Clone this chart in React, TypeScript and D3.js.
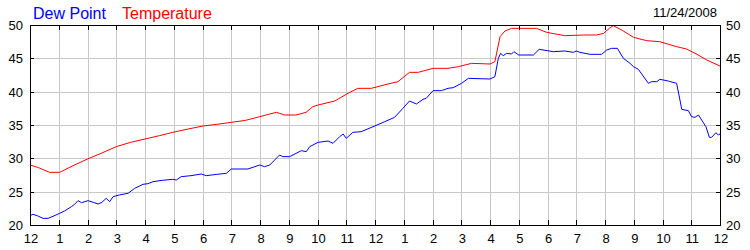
import React from "react";
import * as d3 from "d3";

const hourLabels = ["12","1","2","3","4","5","6","7","8","9","10","11","12","1","2","3","4","5","6","7","8","9","10","11","12"];
const yTicks = [20, 25, 30, 35, 40, 45, 50];
const dateLabel = "11/24/2008";

const tempHours = [0, 0.3, 0.68, 1.03, 1.5, 2.0, 2.5, 3.0, 3.5, 4.0, 4.5, 4.97, 5.5, 6.02, 6.5, 7.0, 7.5, 7.99, 8.3, 8.57, 8.86, 9.25, 9.6, 9.84, 10.02, 10.6, 11.06, 11.4, 11.87, 12.45, 12.8, 13.2, 13.5, 14.02, 14.54, 14.9, 15.36, 16.0, 16.17, 16.35, 16.52, 16.75, 17.62, 17.97, 18.6, 19.25, 19.7, 19.95, 20.15, 20.29, 20.6, 20.99, 21.45, 21.9, 22.49, 22.84, 23.2, 23.54, 24];
const tempValues = [29.0, 28.6, 27.9, 27.9, 28.9, 29.9, 30.8, 31.75, 32.4, 32.9, 33.4, 33.9, 34.4, 34.85, 35.1, 35.4, 35.7, 36.25, 36.6, 36.9, 36.5, 36.5, 36.9, 37.75, 38.0, 38.6, 39.75, 40.5, 40.5, 41.15, 41.5, 42.9, 42.9, 43.5, 43.5, 43.75, 44.25, 44.15, 44.5, 48.25, 49.1, 49.5, 49.5, 48.9, 48.4, 48.5, 48.5, 48.75, 49.5, 49.9, 49.2, 48.15, 47.65, 47.5, 46.75, 46.4, 45.6, 44.75, 43.85];

const dewHours = [0, 0.1, 0.25, 0.45, 0.63, 0.8, 1.03, 1.2, 1.44, 1.55, 1.67, 1.79, 2.02, 2.2, 2.37, 2.5, 2.65, 2.77, 2.89, 3.1, 3.41, 3.64, 3.93, 4.1, 4.28, 4.6, 4.97, 5.09, 5.26, 5.6, 5.96, 6.13, 6.5, 6.83, 7.0, 7.58, 7.99, 8.16, 8.34, 8.68, 8.8, 9.03, 9.44, 9.61, 9.73, 10.02, 10.37, 10.54, 10.77, 10.89, 11.0, 11.23, 11.52, 11.99, 12.34, 12.68, 12.97, 13.2, 13.44, 13.67, 13.78, 14.02, 14.31, 14.54, 14.72, 15.01, 15.25, 16.0, 16.17, 16.29, 16.37, 16.46, 16.58, 16.75, 16.83, 17.0, 17.51, 17.71, 18.2, 18.6, 18.9, 19.0, 19.13, 19.48, 19.88, 20.06, 20.23, 20.43, 20.64, 20.87, 20.99, 21.16, 21.51, 21.62, 21.8, 21.91, 22.2, 22.49, 22.58, 22.67, 22.9, 23.01, 23.13, 23.25, 23.51, 23.63, 23.71, 23.86, 23.94, 24];
const dewValues = [21.4, 21.6, 21.4, 21.0, 21.0, 21.3, 21.75, 22.1, 22.75, 23.1, 23.65, 23.35, 23.65, 23.4, 23.15, 23.4, 24.0, 23.5, 24.25, 24.5, 24.75, 25.5, 26.1, 26.2, 26.5, 26.7, 26.85, 26.75, 27.25, 27.4, 27.65, 27.4, 27.6, 27.75, 28.4, 28.4, 29.0, 28.75, 29.0, 30.5, 30.25, 30.25, 31.15, 31.0, 31.75, 32.4, 32.6, 32.25, 33.25, 33.65, 33.0, 33.9, 34.0, 34.85, 35.5, 36.15, 37.5, 38.6, 38.15, 38.85, 39.0, 40.15, 40.15, 40.5, 40.6, 41.25, 42.0, 41.9, 42.25, 45.0, 45.75, 45.4, 45.75, 45.65, 46.0, 45.5, 45.5, 46.35, 46.0, 46.1, 45.9, 46.1, 45.9, 45.6, 45.6, 46.25, 46.5, 46.5, 45.0, 44.25, 43.75, 43.35, 41.25, 41.5, 41.5, 41.85, 41.6, 41.25, 39.35, 37.35, 37.15, 36.25, 36.15, 36.5, 34.75, 33.15, 33.15, 33.85, 33.5, 33.65];

const W = 750, H = 250;
const L = 30, R = 720, T = 25, B = 225;
const FONT = "'Liberation Sans', Arial, sans-serif";

export default function App() {
  const x = d3.scaleLinear().domain([0, 24]).range([L, R]);
  const y = d3.scaleLinear().domain([20, 50]).range([B, T]);
  const line = d3.line<[number, number]>().x(d => x(d[0])).y(d => y(d[1]));
  const tempPath = line(tempHours.map((h, i) => [h, tempValues[i]]) as [number, number][]) || "";
  const dewPath = line(dewHours.map((h, i) => [h, dewValues[i]]) as [number, number][]) || "";
  const hours = d3.range(0, 25);
  return (
    <svg width={W} height={H} style={{ position: "absolute", left: 0, top: 0, background: "#fff" }} fontFamily={FONT}>
      <rect x={0} y={0} width={W} height={H} fill="#fff" />
      {hours.slice(1, 24).map(h => (
        <line key={"vg" + h} x1={Math.round(x(h)) + 0.5} x2={Math.round(x(h)) + 0.5} y1={T} y2={B} stroke="#c8c8c8" strokeWidth={1} />
      ))}
      {yTicks.slice(1, -1).map(v => (
        <line key={"hg" + v} x1={L} x2={R} y1={Math.round(y(v)) + 0.5} y2={Math.round(y(v)) + 0.5} stroke="#c8c8c8" strokeWidth={1} />
      ))}
      <path d={tempPath} fill="none" stroke="#ff0000" strokeWidth={1} />
      <path d={dewPath} fill="none" stroke="#0000ff" strokeWidth={1} />
      <rect x={L + 0.5} y={T + 0.5} width={R - L} height={B - T} fill="none" stroke="#000" strokeWidth={1} />
      {hours.map(h => (
        <g key={"xt" + h}>
          <line x1={Math.round(x(h)) + 0.5} x2={Math.round(x(h)) + 0.5} y1={T} y2={T + 5} stroke="#000" />
          <line x1={Math.round(x(h)) + 0.5} x2={Math.round(x(h)) + 0.5} y1={B - 5} y2={B} stroke="#000" />
          <text x={x(h) + 1} y={243} fontSize={13} textAnchor="middle" fill="#000">{hourLabels[h]}</text>
        </g>
      ))}
      {yTicks.map(v => (
        <g key={"yt" + v}>
          <line x1={L} x2={L + 4} y1={Math.round(y(v)) + 0.5} y2={Math.round(y(v)) + 0.5} stroke="#000" />
          <line x1={R - 4} x2={R} y1={Math.round(y(v)) + 0.5} y2={Math.round(y(v)) + 0.5} stroke="#000" />
          <text x={23} y={y(v) + 5} fontSize={13} textAnchor="end" fill="#000">{v}</text>
          <text x={726} y={y(v) + 5} fontSize={13} textAnchor="start" fill="#000">{v}</text>
        </g>
      ))}
      <text x={33} y={19} fontSize={16} fill="#0000ff">Dew Point</text>
      <text x={122} y={19} fontSize={16} fill="#ff0000">Temperature</text>
      <text x={717} y={17} fontSize={13} textAnchor="end" fill="#000">{dateLabel}</text>
    </svg>
  );
}
